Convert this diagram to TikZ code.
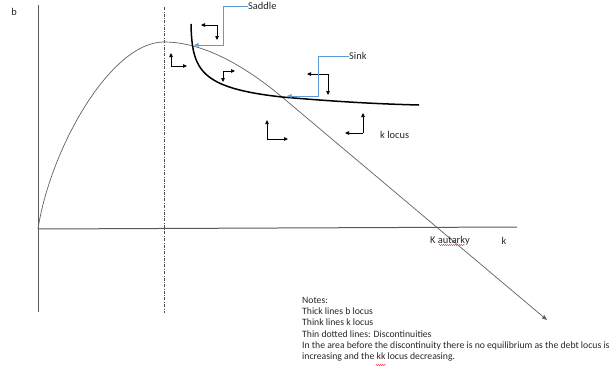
\documentclass[tikz,border=0pt]{standalone}
\usepackage{fontspec}
\setmainfont{Carlito}
\usetikzlibrary{arrows.meta,decorations.pathmorphing}
\begin{document}
\begin{tikzpicture}[x=1pt,y=-1pt,
 axisline/.style={draw=black!65, line width=1pt},
 klocus/.style={draw=black!62, line width=0.7pt},
 blocus/.style={draw=black, line width=1.5pt},
 disc/.style={draw=black!70, line width=0.6pt, dash pattern=on 3pt off 1.5pt on 0.6pt off 1.5pt},
 dir/.style={draw=black, line width=0.7pt, -{Triangle[length=4pt,width=3.5pt]}},
 callout/.style={draw={rgb,255:red,91;green,155;blue,213}, line width=0.8pt, -{Triangle[length=4.5pt,width=3.5pt]}},
 lbl/.style={font=\fontsize{10.4}{12}\selectfont, text=black!85, inner sep=0pt},
 squiggle/.style={draw=red!80, line width=0.4pt, decorate, decoration={snake, amplitude=0.6pt, segment length=2pt}},
]
\useasboundingbox (0,0) rectangle (611,375);

% axes
\coordinate (O) at (38,229);
\coordinate (ytop) at (38,5);
\coordinate (ybot) at (38,312);
\coordinate (xend) at (517,227);
\draw[axisline] (ytop) -- (ybot);
\draw[axisline] (O) -- (xend);

% discontinuity
\coordinate (dtop) at (164,7);
\coordinate (dbot) at (164,313);
\draw[disc] (dtop) -- (dbot);

% k locus (thin)
\coordinate (peak) at (164,42);
\coordinate (sinkpt) at (282,97);
\coordinate (kend) at (547,320);
\draw[klocus, -{Triangle[length=5pt,width=4pt]}] (O) .. controls (50,150) and (110,42) .. (peak)
  .. controls (200,42) and (240,62) .. (sinkpt) -- (kend);

% b locus (thick)
\coordinate (btop) at (191,24);
\coordinate (bend) at (419,105);
\draw[blocus] (btop) .. controls (192,70) and (200,88) .. (sinkpt) .. controls (340,102) and (380,104) .. (bend);

% direction arrows
\coordinate (c1) at (217,25); \coordinate (c1a) at (201,25); \coordinate (c1b) at (217,40);
\draw[dir] (c1) -- (c1a); \draw[dir] (c1) -- (c1b);
\coordinate (c2) at (171,66); \coordinate (c2a) at (171,53); \coordinate (c2b) at (187,66);
\draw[dir] (c2) -- (c2a); \draw[dir] (c2) -- (c2b);
\coordinate (c3) at (223,71); \coordinate (c3a) at (235,71); \coordinate (c3b) at (223,82);
\draw[dir] (c3) -- (c3a); \draw[dir] (c3) -- (c3b);
\coordinate (c4) at (328,74); \coordinate (c4a) at (307,74); \coordinate (c4b) at (328,95);
\draw[dir] (c4) -- (c4a); \draw[dir] (c4) -- (c4b);
\coordinate (c5) at (267,139); \coordinate (c5a) at (267,120); \coordinate (c5b) at (288,139);
\draw[dir] (c5) -- (c5a); \draw[dir] (c5) -- (c5b);
\coordinate (c6) at (363,133); \coordinate (c6a) at (363,113); \coordinate (c6b) at (345,133);
\draw[dir] (c6) -- (c6a); \draw[dir] (c6) -- (c6b);

% callouts
\node[lbl, anchor=west] (saddle) at (248,6) {Saddle};
\coordinate (saddlept) at (194,45);
\coordinate (sbend) at (223,45);
\draw[callout] (saddle.west) -| (sbend) -- (saddlept);
\node[lbl, anchor=west] (sink) at (349,56) {Sink};
\coordinate (kbend) at (318,96);
\coordinate (sinktip) at (287,96);
\draw[callout] (sink.west) -| (kbend) -- (sinktip);

% labels
\node[lbl] (blab) at (14,12) {b};
\node[lbl, anchor=west] (kloc) at (380,135) {k locus};
\node[lbl, anchor=west] (kaut) at (430,241) {K autarky};
\node[lbl] (klab) at (504,241) {k};
\coordinate (sq1a) at (439,245); \coordinate (sq1b) at (465,245);
\draw[squiggle] (sq1a) -- (sq1b);

\node[lbl, anchor=north west, align=left, font=\fontsize{9.7}{11.2}\selectfont] (notes) at (302,297)
 {Notes:\\
 Thick lines b locus\\
 Think lines k locus\\
 Thin dotted lines: Discontinuities\\
 In the area before the discontinuity there is no equilibrium as the debt locus is\\
 increasing and the kk locus decreasing.};
\coordinate (sq2a) at (376,365); \coordinate (sq2b) at (386,365);
\draw[squiggle] (sq2a) -- (sq2b);
\end{tikzpicture}
\end{document}
